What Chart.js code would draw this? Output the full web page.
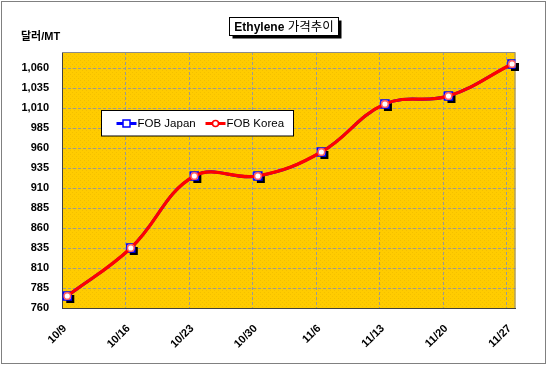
<!DOCTYPE html>
<html><head><meta charset="utf-8">
<script src="https://cdn.jsdelivr.net/npm/chart.js@4"></script>
<style>html,body{margin:0;padding:0;background:#fff}canvas{display:block}</style>
</head><body>
<canvas id="c" width="548" height="369"></canvas>
<script>
const categories = ['10/9','10/16','10/23','10/30','11/6','11/13','11/20','11/27'];
const fobJapan = [775, 835, 925, 925, 955, 1015, 1025, 1065];
const fobKorea = [775, 835, 925, 925, 955, 1015, 1025, 1065];
const yTickValues = [760, 785, 810, 835, 860, 885, 910, 935, 960, 985, 1010, 1035, 1060];
const seriesNames = ['FOB Japan', 'FOB Korea'];
const titleBold = 'Ethylene';
const titleRest = '가격추이';
const yAxisTitle = '달러/MT';

const FONT = "'Liberation Sans', Arial, 'Noto Sans CJK KR', sans-serif";
const X_SHIFT = 0.083;

// plot background pattern
const pc = document.createElement('canvas');
pc.width = 4; pc.height = 4;
const pctx = pc.getContext('2d');
pctx.fillStyle = '#FFCC00'; pctx.fillRect(0,0,4,4);
pctx.fillStyle = '#F3C000'; pctx.fillRect(0,0,1,1); pctx.fillRect(2,2,1,1);

const toPts = arr => arr.map((v, i) => ({x: i, y: v}));

const decor = {
  id: 'decor',
  beforeDraw(chart) {
    const {ctx, chartArea: a} = chart;
    ctx.save();
    ctx.fillStyle = '#fff';
    ctx.fillRect(0, 0, chart.width, chart.height);
    ctx.strokeStyle = '#808080'; ctx.lineWidth = 1;
    ctx.strokeRect(1.5, 1.5, 544, 362);
    ctx.fillStyle = ctx.createPattern(pc, 'repeat');
    ctx.fillRect(a.left, a.top, a.right - a.left, a.bottom - a.top);
    ctx.restore();
  },
  beforeDatasetsDraw(chart) {
    const {ctx, chartArea: a} = chart;
    ctx.save();
    ctx.strokeStyle = '#8a8a8a'; ctx.lineWidth = 1;
    ctx.beginPath();
    ctx.moveTo(a.left, a.top + 0.5); ctx.lineTo(a.right - 0.5, a.top + 0.5); ctx.lineTo(a.right - 0.5, a.bottom);
    ctx.stroke();
    const meta = chart.getDatasetMeta(0);
    ctx.fillStyle = '#000';
    meta.data.forEach(p => { ctx.fillRect(p.x - 4 + 3, p.y - 4 + 3, 8, 8); });
    ctx.restore();
  },
  afterDraw(chart) {
    const {ctx} = chart;
    ctx.save();
    const bx = 229.5, by = 17.5, bw = 109, bh = 18;
    ctx.fillStyle = '#000';
    ctx.fillRect(bx + 3, by + 3, bw, bh);
    ctx.fillStyle = '#fff';
    ctx.fillRect(bx, by, bw, bh);
    ctx.strokeStyle = '#000'; ctx.lineWidth = 1;
    ctx.strokeRect(bx, by, bw, bh);
    ctx.fillStyle = '#000';
    ctx.textBaseline = 'middle';
    ctx.font = 'bold 12px ' + FONT;
    const w1 = ctx.measureText(titleBold + ' ').width;
    ctx.font = '12.5px ' + FONT;
    const w2 = ctx.measureText(titleRest).width;
    const tx = bx + bw / 2 - (w1 + w2) / 2;
    ctx.font = 'bold 12px ' + FONT;
    ctx.fillText(titleBold + ' ', tx, by + bh / 2 + 1);
    ctx.font = '12.5px ' + FONT;
    ctx.fillText(titleRest, tx + w1, by + bh / 2 + 1);
    ctx.font = 'bold 11px ' + FONT;
    ctx.textAlign = 'left';
    ctx.fillText(yAxisTitle, 21, 36.5);
    const lx = 101.5, ly = 110.5, lw = 192, lh = 25.5;
    ctx.fillStyle = '#fff';
    ctx.fillRect(lx, ly, lw, lh);
    ctx.strokeStyle = '#000';
    ctx.strokeRect(lx, ly, lw, lh);
    const items = [{x: 116.5}, {x: 205.5}];
    chart.data.datasets.forEach((ds, i) => {
      const ix = items[i].x, iy = 123.5;
      ctx.strokeStyle = ds.borderColor; ctx.lineWidth = 3;
      ctx.beginPath(); ctx.moveTo(ix, iy); ctx.lineTo(ix + 20, iy); ctx.stroke();
      ctx.lineWidth = 1.5;
      ctx.fillStyle = '#fff';
      if (ds.pointStyle === 'rect') {
        ctx.fillRect(ix + 6.5, iy - 3.5, 7, 7);
        ctx.strokeRect(ix + 6.5, iy - 3.5, 7, 7);
      } else {
        ctx.beginPath(); ctx.arc(ix + 10, iy, 3, 0, Math.PI * 2); ctx.fill(); ctx.stroke();
      }
      ctx.fillStyle = '#000';
      ctx.font = '11.5px ' + FONT;
      ctx.textBaseline = 'middle';
      ctx.fillText(ds.label, ix + 21, iy + 0.5);
    });
    ctx.restore();
  }
};

new Chart(document.getElementById('c'), {
  type: 'line',
  data: {
    datasets: [
      {
        label: seriesNames[0], data: toPts(fobJapan), order: 2,
        borderColor: '#0000FF', borderWidth: 3, tension: 0.4,
        pointStyle: 'rect', pointRadius: 5.66, pointBorderWidth: 1.5,
        pointBackgroundColor: '#fff', pointBorderColor: '#0000FF'
      },
      {
        label: seriesNames[1], data: toPts(fobKorea), order: 1,
        borderColor: '#FF0000', borderWidth: 3.2, tension: 0.4,
        pointStyle: 'circle', pointRadius: 3.3, pointBorderWidth: 1.5,
        pointBackgroundColor: '#fff', pointBorderColor: '#FF6060'
      }
    ]
  },
  options: {
    responsive: false, animation: false, devicePixelRatio: 1,
    layout: {padding: {left: 0, top: 52, right: 32.5, bottom: 0}},
    plugins: {legend: {display: false}, tooltip: {enabled: false}, title: {display: false}},
    scales: {
      x: {
        type: 'linear', min: -X_SHIFT, max: 7.055,
        afterBuildTicks(s) { s.ticks = categories.map((c, i) => ({value: i - X_SHIFT})); },
        afterFit(s) { s.height = 369 - 308; },
        grid: {color: '#999999', lineWidth: 1, drawTicks: false},
        border: {display: true, color: '#404040', width: 1, dash: [3, 2]},
        ticks: {
          autoSkip: false, minRotation: 45, maxRotation: 45, padding: 14, labelOffset: 3,
          color: '#000', font: {family: FONT, size: 11, weight: 'bold'},
          callback: (v, i) => categories[i]
        }
      },
      y: {
        type: 'linear', min: 760, max: 1080,
        afterBuildTicks(s) { s.ticks = yTickValues.map(v => ({value: v})); },
        afterFit(s) { s.width = 62; },
        grid: {color: '#999999', lineWidth: 1, drawTicks: false},
        border: {display: true, color: '#404040', width: 1, dash: [3, 2]},
        ticks: {
          padding: 13, color: '#000', font: {family: FONT, size: 11, weight: 'bold'},
          callback: v => v.toLocaleString('en-US')
        }
      }
    }
  },
  plugins: [decor]
});
</script>
</body></html>
